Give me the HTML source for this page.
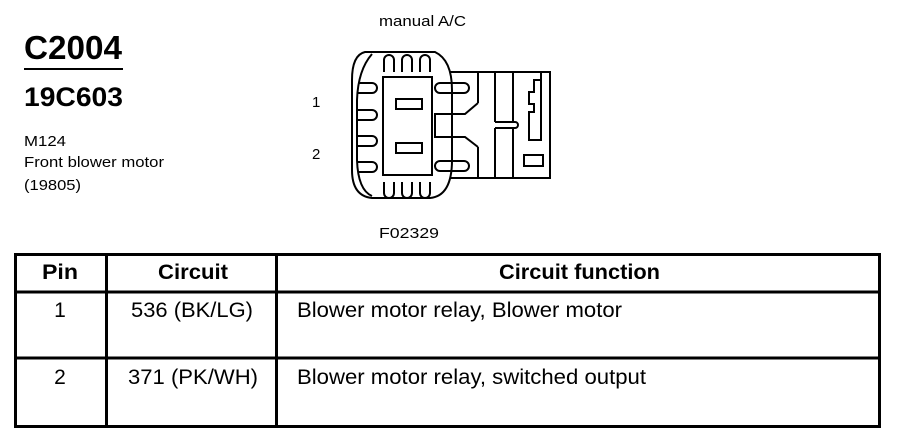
<!DOCTYPE html>
<html><head><meta charset="utf-8"><style>
body{margin:0;background:#fff;}
svg{display:block;font-family:"Liberation Sans",Arial,sans-serif;}
</style></head><body>
<svg width="904" height="448" viewBox="0 0 904 448" xmlns="http://www.w3.org/2000/svg">
<text x="24" y="59" font-size="33" font-weight="bold" textLength="98" lengthAdjust="spacingAndGlyphs">C2004</text>
<rect x="24" y="68" width="99" height="2"/>
<text x="24" y="106" font-size="27" font-weight="bold" textLength="99" lengthAdjust="spacingAndGlyphs">19C603</text>
<text x="24" y="146" font-size="15" textLength="42" lengthAdjust="spacingAndGlyphs">M124</text>
<text x="24" y="167" font-size="15" textLength="140" lengthAdjust="spacingAndGlyphs">Front blower motor</text>
<text x="24" y="190" font-size="15" textLength="57" lengthAdjust="spacingAndGlyphs">(19805)</text>
<text x="379" y="26" font-size="15" textLength="87" lengthAdjust="spacingAndGlyphs">manual A/C</text>
<text x="312" y="107" font-size="15">1</text>
<text x="312" y="159" font-size="15">2</text>
<text x="379" y="238" font-size="15" textLength="60" lengthAdjust="spacingAndGlyphs">F02329</text>
<g fill="none" stroke="#000" stroke-width="2">
<polyline points="450,72 550,72 550,178 450,178"/>
<line x1="478" y1="72" x2="478" y2="103"/><line x1="495" y1="72" x2="495" y2="122"/><line x1="513" y1="72" x2="513" y2="122"/>
<line x1="478" y1="147" x2="478" y2="178"/><line x1="495" y1="128" x2="495" y2="178"/><line x1="513" y1="128" x2="513" y2="178"/>
<path d="M478,103 L465,114 L435,114 L435,137 L465,137 L478,147"/>
<path d="M495,122 L515,122 A3,3 0 0 1 515,128 L495,128"/>
<path d="M541,72 L541,140 L529,140 L529,112 L534,112 L534,104 L529,104 L529,92 L534,92 L534,80 L541,80"/>
<rect x="524" y="155" width="19" height="11"/>
<path d="M365,52 L435,52 Q452,60 452,90 L452,160 Q452,196 430,198 L372,198 Q352,196 352,170 L352,80 Q352,55 365,52 Z"/>
<path d="M372,54 Q358,70 357,100 L357,160 Q358,190 372,196"/>
<rect x="383" y="77" width="49" height="98"/>
<rect x="396" y="99" width="26" height="10"/>
<rect x="396" y="143" width="26" height="10"/>
<path d="M384,72 L384,60 A5,5 0 0 1 394,60 L394,72"/>
<path d="M402,72 L402,60 A5,5 0 0 1 412,60 L412,72"/>
<path d="M420,72 L420,60 A5,5 0 0 1 430,60 L430,72"/>
<path d="M384,182 L384,193 A5,5 0 0 0 394,193 L394,182"/>
<path d="M402,182 L402,193 A5,5 0 0 0 412,193 L412,182"/>
<path d="M420,182 L420,193 A5,5 0 0 0 430,193 L430,182"/>
<path d="M358,83 L372,83 A5,5 0 0 1 372,93 L358,93"/>
<path d="M358,110 L372,110 A5,5 0 0 1 372,120 L358,120"/>
<path d="M358,136 L372,136 A5,5 0 0 1 372,146 L358,146"/>
<path d="M358,162 L372,162 A5,5 0 0 1 372,172 L358,172"/>
<path d="M440,83 L464,83 A5,5 0 0 1 464,93 L440,93 A5,5 0 0 1 440,83"/>
<path d="M440,161 L464,161 A5,5 0 0 1 464,171 L440,171 A5,5 0 0 1 440,161"/>
</g>
<g fill="none" stroke="#000" stroke-width="3">
<rect x="15.5" y="254.5" width="864" height="172"/>
<line x1="15" y1="292" x2="880" y2="292"/>
<line x1="15" y1="358" x2="880" y2="358"/>
<line x1="106.5" y1="254" x2="106.5" y2="427"/>
<line x1="276.5" y1="254" x2="276.5" y2="427"/>
</g>
<g font-size="21">
<text x="42" y="279" font-weight="bold" textLength="36" lengthAdjust="spacingAndGlyphs">Pin</text>
<text x="158" y="279" font-weight="bold" textLength="70" lengthAdjust="spacingAndGlyphs">Circuit</text>
<text x="499" y="279" font-weight="bold" textLength="161" lengthAdjust="spacingAndGlyphs">Circuit function</text>
<text x="60" y="317" text-anchor="middle">1</text>
<text x="131" y="317" textLength="122" lengthAdjust="spacingAndGlyphs">536 (BK/LG)</text>
<text x="297" y="317" textLength="325" lengthAdjust="spacingAndGlyphs">Blower motor relay, Blower motor</text>
<text x="60" y="384" text-anchor="middle">2</text>
<text x="128" y="384" textLength="130" lengthAdjust="spacingAndGlyphs">371 (PK/WH)</text>
<text x="297" y="384" textLength="349" lengthAdjust="spacingAndGlyphs">Blower motor relay, switched output</text>
</g>
</svg>
</body></html>
